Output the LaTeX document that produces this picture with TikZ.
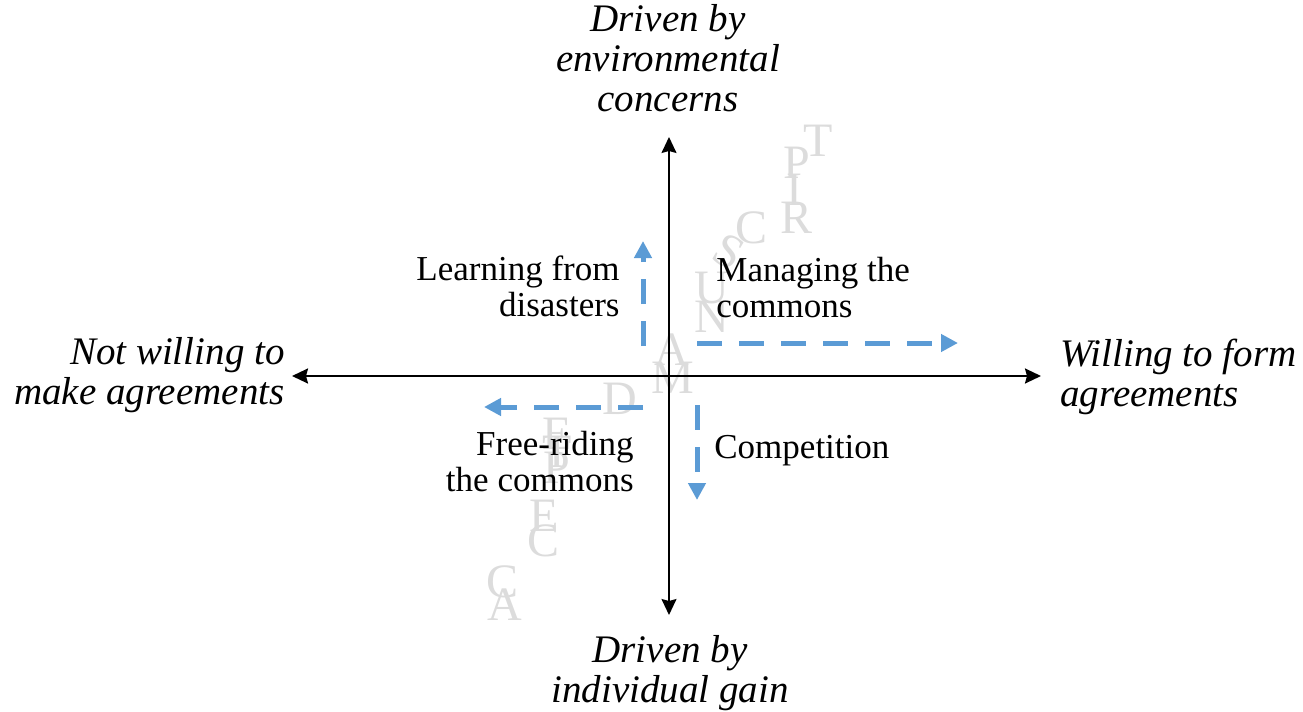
\documentclass[tikz,border=0pt]{standalone}
\usepackage{fontspec}
\setmainfont{Liberation Serif}
\usetikzlibrary{arrows.meta}
\definecolor{dashblue}{HTML}{5B9BD5}
\definecolor{wmgray}{HTML}{DCDCDC}
\tikzset{
  axis/.style={draw=black,line width=1pt,-{Stealth[length=8pt,width=7.5pt,inset=1pt]}},
  bluearrow/.style={draw=dashblue,line width=2.5pt,dash pattern=on 12.5pt off 8.5pt,
    -{Triangle[length=8.5pt,width=8.5pt]}},
  lab/.style={inner sep=0pt,font=\fontsize{17.5}{18.4}\selectfont},
  axlab/.style={inner sep=0pt,font=\fontsize{19.5}{20}\selectfont\itshape},
  wm/.style={inner sep=0pt,text=wmgray,font=\fontsize{24}{24}\selectfont},
}
\begin{document}
\begin{tikzpicture}[x=0.5pt,y=-0.5pt]
\useasboundingbox (0,0) rectangle (1303,712);
% axes
\coordinate (origin) at (669,376);
\coordinate (top) at (669,137);
\coordinate (bottom) at (669,615);
\coordinate (left) at (292,376);
\coordinate (right) at (1041,376);
% watermark letters
\node[wm] (wM) at (673,378) {M};
\node[wm] (wA) at (672,350) {A};
\node[wm] (wN) at (712,317) {N};
\node[wm] (wU) at (712,288) {U};
\node[wm,rotate=-30] (wS) at (729,252) {S};
\node[wm] (wC) at (752,228) {C};
\node[wm] (wR) at (797,218) {R};
\node[wm] (wI) at (794,190) {I};
\node[wm] (wP) at (797,163) {P};
\node[wm] (wT) at (818,141) {T};
\node[wm] (vD) at (620,399) {D};
\node[wm] (vE) at (557,434) {E};
\node[wm] (vT) at (557,452) {T};
\node[wm] (vP) at (557,468) {P};
\node[wm] (vE2) at (544,516) {E};
\node[wm] (vC) at (544,541) {C};
\node[wm] (vC2) at (503,582) {C};
\node[wm] (vA) at (505,605) {A};
% axis lines
\draw[axis,line width=0.8pt] (origin) -- (top);
\draw[axis,line width=0.8pt] (origin) -- (bottom);
\draw[axis,line width=1.1pt] (origin) -- (left);
\draw[axis,line width=1.1pt] (origin) -- (right);
% axis labels
\node[axlab,anchor=base] (tlab) at (668,32)
  {\begin{tabular}[t]{@{}c@{}}Driven by\\environmental\\concerns\end{tabular}};
\node[axlab,anchor=base] (blab) at (670,662)
  {\begin{tabular}[t]{@{}c@{}}Driven by\\individual gain\end{tabular}};
\node[axlab,anchor=base east] (llab) at (285,364)
  {\begin{tabular}[t]{@{}r@{}}Not willing to\\make agreements\end{tabular}};
\node[axlab,anchor=base west] (rlab) at (1060,366)
  {\begin{tabular}[t]{@{}l@{}}Willing to form\\agreements\end{tabular}};
% quadrant labels
\node[lab,anchor=base east] (learn) at (620,280)
  {\begin{tabular}[t]{@{}r@{}}Learning from\\disasters\end{tabular}};
\node[lab,anchor=base west] (manage) at (716,281)
  {\begin{tabular}[t]{@{}l@{}}Managing the\\commons\end{tabular}};
\node[lab,anchor=base east] (free) at (634,455)
  {\begin{tabular}[t]{@{}r@{}}Free-riding\\the commons\end{tabular}};
\node[lab,anchor=base west] (comp) at (714,458) {Competition};
% blue dashed arrows
\coordinate (a1s) at (643,346);
\coordinate (a1e) at (643,241);
\coordinate (a2s) at (697,343);
\coordinate (a2e) at (958,343);
\coordinate (a3s) at (643,407);
\coordinate (a3e) at (484,407);
\coordinate (a4s) at (697,405);
\coordinate (a4e) at (697,500);
\draw[bluearrow] (a1s) -- (a1e);
\draw[bluearrow] (a2s) -- (a2e);
\draw[bluearrow] (a3s) -- (a3e);
\draw[bluearrow] (a4s) -- (a4e);
\end{tikzpicture}
\end{document}
